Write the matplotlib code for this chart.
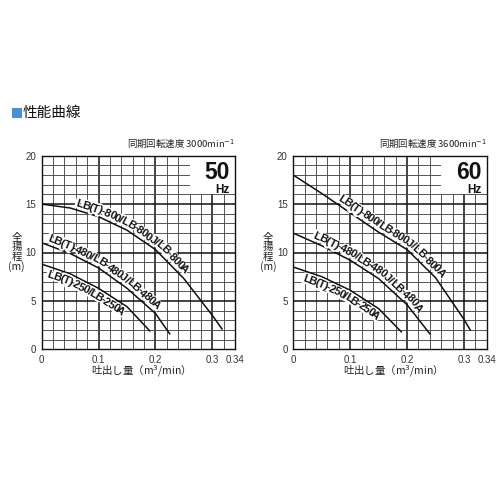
import numpy as np
import matplotlib
matplotlib.use("Agg")
import matplotlib.pyplot as plt
from matplotlib.patches import Rectangle
import matplotlib.patheffects as pe
from matplotlib.textpath import TextToPath
from matplotlib.font_manager import FontProperties

# ---------------- data ----------------
x_ticks = [0, 0.1, 0.2, 0.3, 0.34]
x_tick_labels = ["0", "0.1", "0.2", "0.3", "0.34"]
y_ticks = [0, 5, 10, 15, 20]

hz50_labels = ["LB(T)-800/LB-800J/LB-800A", "LB(T)-480/LB-480J/LB-480A", "LB(T)-250/LB-250A"]
hz50_x = [[0, 0.05, 0.1, 0.15, 0.2, 0.25, 0.3, 0.317],
          [0, 0.05, 0.1, 0.15, 0.2, 0.225],
          [0, 0.05, 0.1, 0.15, 0.19]]
hz50_y = [[15.0, 14.6, 13.7, 12.3, 10.3, 7.3, 3.5, 2.1],
          [11.0, 9.9, 8.4, 6.3, 3.7, 1.6],
          [8.8, 7.8, 6.3, 4.4, 1.9]]

hz60_labels = ["LB(T)-800/LB-800J/LB-800A", "LB(T)-480/LB-480J/LB-480A", "LB(T)-250/LB-250A"]
hz60_x = [[0, 0.05, 0.1, 0.15, 0.2, 0.25, 0.3, 0.311],
          [0, 0.05, 0.1, 0.15, 0.2, 0.24],
          [0, 0.05, 0.1, 0.15, 0.19]]
hz60_y = [[18.0, 16.1, 14.1, 12.1, 10.3, 7.4, 3.1, 2.0],
          [12.0, 10.7, 9.2, 7.3, 4.6, 1.6],
          [8.5, 7.5, 6.1, 4.2, 1.8]]

# label placement: (start x, baseline offset in px: + above / - below)
hz50_label_pos = [(0.058, 3.5), (0.008, 3.5), (0.015, -10.5)]
hz60_label_pos = [(0.075, 3.5), (0.032, 3.5), (0.022, -10.5)]

speeds = ["同期回転速度 3000min$^{-1}$", "同期回転速度 3600min$^{-1}$"]
freqs = ["50", "60"]

# ---------------- style ----------------
plt.rcParams['font.family'] = ['Liberation Sans', 'Noto Sans CJK JP', 'DejaVu Sans']
DPI = 100
fig = plt.figure(figsize=(5, 5), dpi=DPI)

fig.patches.append(Rectangle((12 / 500, 1 - 118 / 500), 10 / 500, 10 / 500,
                             transform=fig.transFigure, facecolor="#4a8fd6",
                             edgecolor="none"))
fig.text(22.5 / 500, 1 - 113 / 500, "性能曲線", fontsize=10.5,
         family=['Noto Sans CJK JP'], va="center", ha="left", color="#111")

ttp = TextToPath()
label_fp = FontProperties(family=['Liberation Sans'], weight='bold', size=8.0)
SPACING = 0.88


def text_width_px(s, fp):
    if s == "":
        return 0.0
    w, h, d = ttp.get_text_width_height_descent(s, fp, ismath=False)
    return w * DPI / 72.0 * SPACING


def curved_text(ax, xs, ys, text, x_start, offset):
    pts_list = []
    for i in range(len(xs) - 1):
        t = np.linspace(0, 1, 40, endpoint=False)
        pts_list.append(np.column_stack([xs[i] + (xs[i + 1] - xs[i]) * t,
                                         ys[i] + (ys[i + 1] - ys[i]) * t]))
    pts_list.append(np.array([[xs[-1], ys[-1]]]))
    pts = np.vstack(pts_list)
    disp = ax.transData.transform(pts)
    seg = np.diff(disp, axis=0)
    seglen = np.hypot(seg[:, 0], seg[:, 1])
    arc = np.concatenate([[0], np.cumsum(seglen)])
    s0 = np.interp(x_start, pts[:, 0], arc)
    for i, ch in enumerate(text):
        c = (text_width_px(text[:i], label_fp) + text_width_px(text[:i + 1], label_fp)) / 2
        s = s0 + c
        p = np.array([np.interp(s, arc, disp[:, 0]), np.interp(s, arc, disp[:, 1])])
        ds = 8
        pa = np.array([np.interp(s - ds, arc, disp[:, 0]), np.interp(s - ds, arc, disp[:, 1])])
        pb = np.array([np.interp(s + ds, arc, disp[:, 0]), np.interp(s + ds, arc, disp[:, 1])])
        tv = pb - pa
        tv = tv / np.hypot(*tv)
        nv = np.array([-tv[1], tv[0]])
        q = p + nv * offset
        ang = np.degrees(np.arctan2(tv[1], tv[0]))
        qd = ax.transData.inverted().transform(q)
        ax.text(qd[0], qd[1], ch, fontproperties=label_fp, rotation=ang,
                rotation_mode="anchor", ha="center", va="baseline", color="white",
                path_effects=[pe.withStroke(linewidth=2.5, foreground="white")],
                zorder=5)
        ax.text(qd[0], qd[1], ch, fontproperties=label_fp, rotation=ang,
                rotation_mode="anchor", ha="center", va="baseline", color="#111",
                zorder=6)


def draw_panel(left_px, xs_list, ys_list, labels, label_pos, speed, freq):
    ax = fig.add_axes([left_px / 500, 1 - 349.3 / 500, 193.4 / 500, 193.6 / 500])
    ax.set_xlim(0, 0.34)
    ax.set_ylim(0, 20)
    for gx in np.arange(0.02, 0.34, 0.02):
        major = abs(gx * 10 - round(gx * 10)) < 1e-6
        ax.axvline(gx, color="#111" if major else "#4a4a4a",
                   lw=1.1 if major else 0.65, zorder=1)
    for gy in range(1, 20):
        major = gy % 5 == 0
        ax.axhline(gy, color="#111" if major else "#4a4a4a",
                   lw=1.1 if major else 0.65, zorder=1)
    for sp in ax.spines.values():
        sp.set_linewidth(1.0)
        sp.set_color("#111")
    ax.add_patch(Rectangle((0.26, 16), 0.08, 4, facecolor="white",
                           edgecolor="none", zorder=2))
    ax.text(0.331, 18.25, freq, fontsize=16.5, fontweight="bold", ha="right",
            va="center", color="#111", zorder=3)
    ax.text(0.331, 16.45, "Hz", fontsize=8.5, fontweight="bold", ha="right",
            va="center", color="#111", zorder=3)
    ax.set_xticks(x_ticks)
    ax.set_xticklabels(x_tick_labels)
    ax.set_yticks(y_ticks)
    ax.tick_params(length=0, labelsize=7, colors="#333", pad=4)
    for xs, ys in zip(xs_list, ys_list):
        ax.plot(xs, ys, color="#111", lw=1.1, zorder=4)
    for xs, ys, lab, (x0, off) in zip(xs_list, ys_list, labels, label_pos):
        curved_text(ax, xs, ys, lab, x0, off)
    ax.text(1.0, 1.03, speed, transform=ax.transAxes, ha="right", va="bottom",
            fontsize=6.8, color="#222", family=['Noto Sans CJK JP', 'DejaVu Sans'])
    ax.set_xlabel("吐出し量（m$^3$/min）", fontsize=7.5, color="#222",
                  family=['Noto Sans CJK JP', 'DejaVu Sans'], labelpad=-1)
    ax.text(-0.13, 0.5, "全\n揚\n程\n(m)", transform=ax.transAxes, ha="center",
            va="center", fontsize=7.5, color="#222", linespacing=0.95,
            family=['Noto Sans CJK JP', 'DejaVu Sans'])
    return ax


draw_panel(41.7, hz50_x, hz50_y, hz50_labels, hz50_label_pos, speeds[0], freqs[0])
draw_panel(293.3, hz60_x, hz60_y, hz60_labels, hz60_label_pos, speeds[1], freqs[1])

fig.savefig("out.png", dpi=DPI)
